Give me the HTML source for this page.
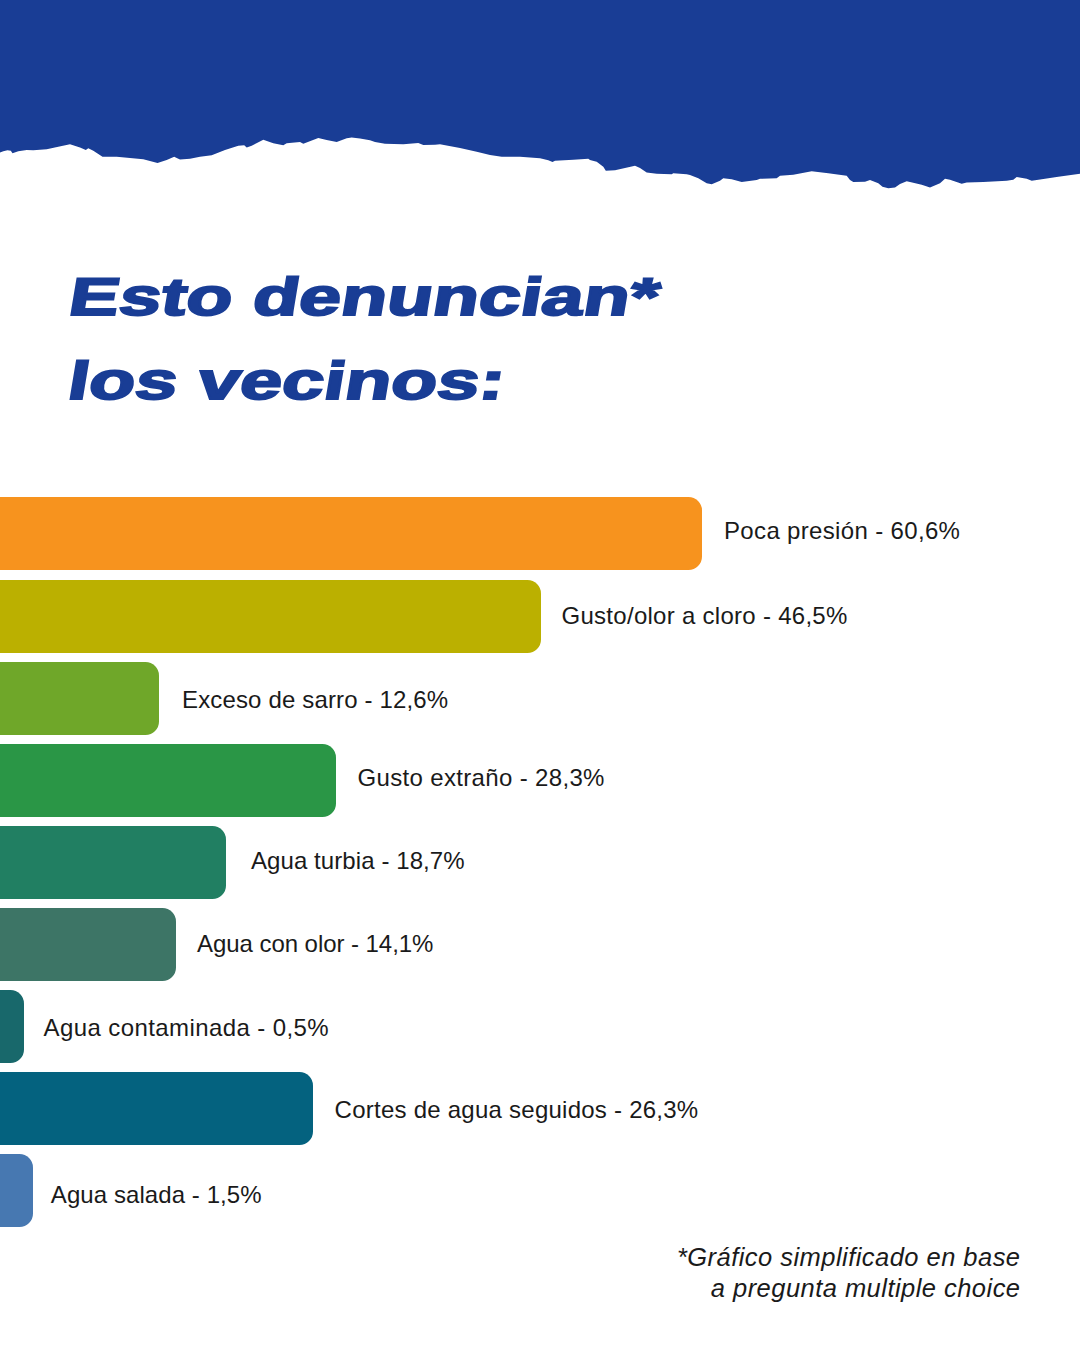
<!DOCTYPE html>
<html><head><meta charset="utf-8">
<style>
html,body{margin:0;padding:0;background:#fff;}
body{width:1080px;height:1350px;position:relative;overflow:hidden;font-family:"Liberation Sans",sans-serif;}
svg.hdr{position:absolute;left:0;top:0;}
.t{position:absolute;left:65px;font-weight:bold;font-size:53px;color:#193d95;white-space:nowrap;transform-origin:0 100%;transform:skewX(-9.5deg) scaleX(1.427);-webkit-text-stroke:2px #193d95;line-height:58px;height:58px;}
.t .cap{font-size:53px;}
.bar{position:absolute;left:-20px;height:73px;border-radius:13.5px;}
.lb{position:absolute;font-size:24px;color:#1a1a1a;white-space:nowrap;line-height:1;letter-spacing:0.2px;}
.fn{position:absolute;right:59.5px;font-style:italic;font-size:25.5px;color:#1a1a1a;white-space:nowrap;text-align:right;line-height:1;letter-spacing:0.75px;}
</style></head><body>
<svg class="hdr" width="1080" height="200" viewBox="0 0 1080 200"><path d="M0 0 H1080 V173.7 L1080 173.7 L1058.3 176.7 L1041.7 179.2 L1031.7 180.8 L1026.7 178.7 L1016.7 177 L1013.3 179.7 L1006.7 180.8 L983.3 182 L966.7 182.5 L961.7 183.7 L950 179.7 L945 178.7 L940 183.3 L930 187.5 L921.7 184.7 L910 182 L906.7 181.3 L900 184 L895 187.5 L888.3 188.3 L882.5 186.7 L878.3 183.3 L870 180 L865 181.7 L853.3 182 L850 180 L846.7 175.8 L828.3 173.3 L811.7 171.3 L793.3 174.7 L780 175.8 L776.7 178.3 L760 178.8 L756.7 180 L741.7 182 L731.7 179.2 L723.3 178.3 L720 180.8 L711.7 184.2 L706.7 183.3 L698.3 178.3 L690 175 L686.7 174.2 L673.3 173.3 L671.7 174.2 L656.7 173.7 L646.7 172.5 L640 168 L635 165.8 L615 170.3 L605.8 170.8 L603.3 166.7 L596.7 161.7 L590 160 L588.3 158.7 L573.3 159.7 L555 160.8 L552.5 162 L548.3 160.3 L540 158.3 L520 156.7 L501.7 156.7 L490 155 L476.7 151.7 L460 148 L440 144.2 L435 144.7 L423.3 145 L418.3 143 L403.3 144.2 L385 143.7 L375 142 L370 140.3 L360 138.5 L351.7 137.5 L346.7 138.3 L336.7 142 L326.7 140 L318.3 138 L303.3 143.7 L300 142 L286.7 143.3 L283.3 145.3 L273.3 143.3 L263.3 139.7 L251.7 145.8 L246.7 147.5 L244.2 145.3 L238.3 145.8 L225 150 L211.7 155.3 L200 156.7 L190 158.7 L180 159.5 L176.7 158 L174.2 156.7 L166.7 160 L157.5 163 L143.3 159.2 L116.7 156.7 L102.5 156.7 L93.3 150.8 L88.3 148.3 L85.8 150 L80 147.5 L70 144.2 L58.3 146.7 L46.7 149.2 L33.3 150.3 L26.7 150 L18.3 151.3 L12.5 153.3 L10.8 150.8 L7.5 150.3 L3.3 151.3 L0 152.5 Z" fill="#193d95"/></svg>
<div class="t" style="top:268px;transform:skewX(-9.5deg) scaleX(1.42)"><span class="cap">E</span>sto denuncian*</div>
<div class="t" style="top:352px;left:64px;transform:skewX(-9.5deg) scaleX(1.424)">los vecinos:</div>

<div class="bar" style="top:497px;width:722px;background:#f7931e"></div>
<div class="lb" style="letter-spacing:0.34px;top:519px;left:724px">Poca presión - 60,6%</div>

<div class="bar" style="top:579.5px;width:561px;background:#bbb000"></div>
<div class="lb" style="letter-spacing:0.28px;top:603.6px;left:561.5px">Gusto/olor a cloro - 46,5%</div>

<div class="bar" style="top:662px;width:179px;background:#6fa729"></div>
<div class="lb" style="letter-spacing:0.15px;top:688px;left:182px">Exceso de sarro - 12,6%</div>

<div class="bar" style="top:744px;width:356px;background:#2a9646"></div>
<div class="lb" style="letter-spacing:0.34px;top:765.5px;left:357.5px">Gusto extraño - 28,3%</div>

<div class="bar" style="top:826px;width:246px;background:#217f62"></div>
<div class="lb" style="letter-spacing:0.08px;top:848.6px;left:251px">Agua turbia - 18,7%</div>

<div class="bar" style="top:908px;width:196px;background:#3d7566"></div>
<div class="lb" style="letter-spacing:-0.055px;top:932px;left:197px">Agua con olor - 14,1%</div>

<div class="bar" style="top:990px;width:44px;background:#18686b"></div>
<div class="lb" style="letter-spacing:0.4px;top:1015.8px;left:43.6px">Agua contaminada - 0,5%</div>

<div class="bar" style="top:1072px;width:333px;background:#04627f"></div>
<div class="lb" style="letter-spacing:0.245px;top:1097.7px;left:334.6px">Cortes de agua seguidos - 26,3%</div>

<div class="bar" style="top:1154.3px;width:53px;background:#4778b1"></div>
<div class="lb" style="letter-spacing:0.08px;top:1182.8px;left:50.8px">Agua salada - 1,5%</div>

<div class="fn" style="top:1245px;letter-spacing:0.46px">*Gráfico simplificado en base</div>
<div class="fn" style="top:1276px;letter-spacing:0.46px">a pregunta multiple choice</div>
</body></html>
